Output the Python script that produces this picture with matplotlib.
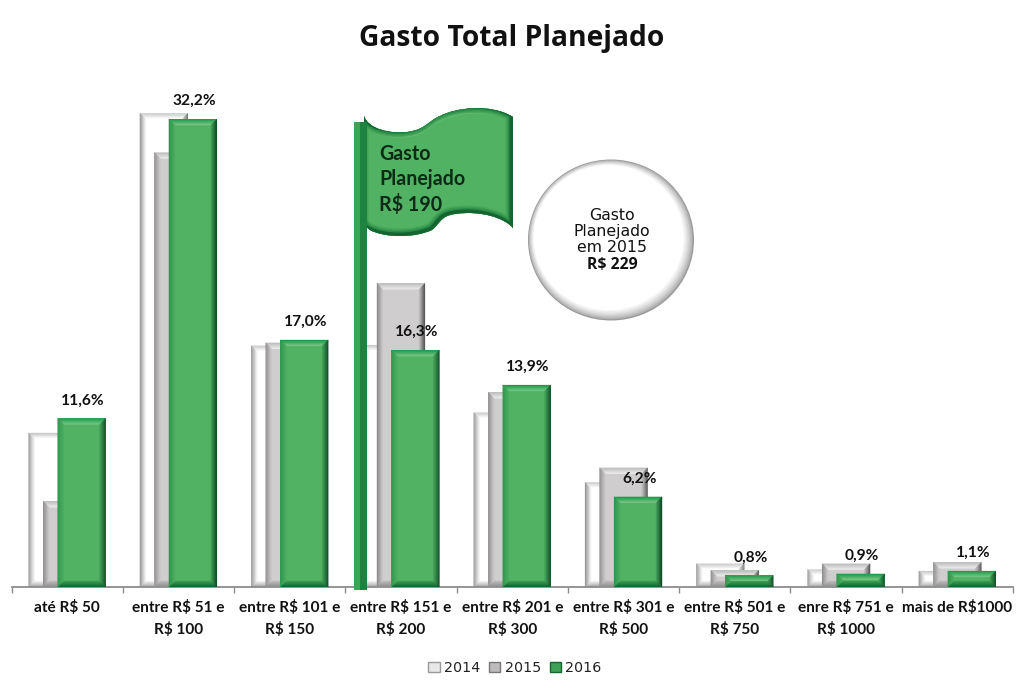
import numpy as np
import matplotlib
matplotlib.use("Agg")
import matplotlib.pyplot as plt
from matplotlib.patches import Polygon, PathPatch, Ellipse, Patch
from matplotlib.path import Path
from matplotlib.colors import to_rgb
from matplotlib.transforms import Affine2D

title = "Gasto Total Planejado"
categories = ["até R$ 50", "entre R$ 51 e\nR$ 100", "entre R$ 101 e\nR$ 150", "entre R$ 151 e\nR$ 200",
              "entre R$ 201 e\nR$ 300", "entre R$ 301 e\nR$ 500", "entre R$ 501 e\nR$ 750",
              "enre R$ 751 e\nR$ 1000", "mais de R$1000"]
s2014 = [10.6, 32.6, 16.6, 16.65, 12.0, 7.2, 1.6, 1.2, 1.1]
s2015 = [5.9, 29.9, 16.8, 20.9, 13.4, 8.2, 1.15, 1.6, 1.7]
s2016 = [11.6, 32.2, 17.0, 16.3, 13.9, 6.2, 0.8, 0.9, 1.1]
labels2016 = ["11,6%", "32,2%", "17,0%", "16,3%", "13,9%", "6,2%", "0,8%", "0,9%", "1,1%"]
flag_lines = ["Gasto", "Planejado", "R$ 190"]
circle_lines = ["Gasto", "Planejado", "em 2015"]
circle_value = "R$ 229"

W, H = 1024, 696
fig = plt.figure(figsize=(W / 100, H / 100), dpi=100, facecolor="white")
L, R, B, T = 11.5, 1013.0, 587.0, 60.0
ax = fig.add_axes([L / W, 1 - B / H, (R - L) / W, (B - T) / H])
ax.set_xlim(-0.5, 8.5)
PPY = 14.53
ax.set_ylim(0, (B - T) / PPY)
PPX = (R - L) / 9
for s in ["top", "left", "right"]:
    ax.spines[s].set_visible(False)
ax.spines["bottom"].set_color("#8c8c8c")
ax.spines["bottom"].set_linewidth(1.3)
ax.set_yticks([])
x = np.arange(9)
ax.set_xticks(x)
ax.set_xticklabels(categories, fontfamily="Lato", fontweight="bold", fontsize=11.1, linespacing=1.58, color="#111111")
ax.tick_params(axis="x", which="major", length=0, pad=9.5)
ax.set_xticks(np.arange(-0.5, 9, 1), minor=True)
ax.tick_params(axis="x", which="minor", length=4, width=1, color="#8c8c8c")

styles = {
    "2014": dict(face="#FFFFFF", top=("#c8c8c8", "#ffffff"), left=("#989898", "#f0f0f0"), right=("#777777", "#dddddd"), bottom=("#a8a8a8", "#eeeeee")),
    "2015": dict(face="#CFCDCD", top=("#bdbdbd", "#ebebeb"), left=("#8f8d8d", "#c8c6c6"), right=("#555555", "#bdbbbb"), bottom=("#8f8f8f", "#b8b6b6")),
    "2016": dict(face="#52B263", top=("#1f9a4a", "#74c384"), left=("#2c974e", "#4aab5e"), right=("#0e4a26", "#3f9a55"), bottom=("#0f6633", "#379850")),
}

def mix(a, b, t):
    a, b = np.array(to_rgb(a)), np.array(to_rgb(b))
    return tuple(a + (b - a) * t)

def bevel(x0, width, h, st, z, n=6):
    x1 = x0 + width
    dx = 1.0 / PPX
    dy = min(1.0 / PPY, h / (2.0 * n))
    for k in range(n):
        t = k / (n - 1)
        a0, a1 = x0 + k * dx, x0 + (k + 1) * dx
        b0, b1 = x1 - k * dx, x1 - (k + 1) * dx
        c0, c1 = k * dy, (k + 1) * dy
        d0, d1 = h - k * dy, h - (k + 1) * dy
        quads = {
            "top": [(a0, d0), (b0, d0), (b1, d1), (a1, d1)],
            "bottom": [(a0, c0), (b0, c0), (b1, c1), (a1, c1)],
            "left": [(a0, c0), (a1, c1), (a1, d1), (a0, d0)],
            "right": [(b0, c0), (b1, c1), (b1, d1), (b0, d0)],
        }
        for side, pts in quads.items():
            col = mix(st[side][0], st[side][1], t)
            ax.add_patch(Polygon(pts, closed=True, facecolor=col, edgecolor=col, linewidth=0.2, zorder=z + 0.1))

bw = 48 / PPX
off = 14.5 / PPX
for name, vals, shift, z in [("2014", s2014, -off, 2), ("2015", s2015, 0, 3), ("2016", s2016, off, 4)]:
    st = styles[name]
    ax.bar(x + shift, vals, bw, color=st["face"], zorder=z, linewidth=0)
    for xi, v in zip(x, vals):
        bevel(xi + shift - bw / 2, bw, v, st, z)

for xi, v, lab in zip(x, s2016, labels2016):
    ax.annotate(lab, (xi + off, v), xytext=(1, 13), textcoords="offset points", ha="center", va="center",
                fontfamily="Lato", fontweight="bold", fontsize=11.2, color="#111111", zorder=8)

# overlay in pixel coordinates for the annotation shapes
ov = fig.add_axes([0, 0, 1, 1], facecolor="none")
ov.set_xlim(0, W)
ov.set_ylim(H, 0)
ov.axis("off")
ov.set_zorder(5)

# circle
cx, cy, rx, ry = 611, 240, 83, 80.5
m = 9
for k in range(m):
    t = k / (m - 1)
    col = mix("#9a9a9a", "#ffffff", t ** 0.7)
    ov.add_patch(Ellipse((cx - 0.3 * k, cy - 0.3 * k), 2 * (rx - k), 2 * (ry - k), facecolor=col, edgecolor="none"))
for i, ln in enumerate(circle_lines):
    ov.text(612, 215 + 16.5 * i, ln, ha="center", va="center", fontfamily="DejaVu Sans", fontsize=11.3, color="#111111")
ov.text(612, 265, circle_value, ha="center", va="center", fontfamily="Open Sans", fontweight="bold", fontsize=11.3, color="#111111")

# flag
verts = [(364, 116),
         (368, 129), (390, 134), (407, 132),
         (425, 130), (428, 121), (440, 116),
         (455, 108), (490, 103), (513, 117),
         (513, 228),
         (505, 218), (480, 210), (455, 214),
         (440, 216), (440, 224), (432, 230),
         (415, 238), (385, 238), (370, 230),
         (366, 227), (365, 225), (364, 222),
         (364, 116)]
codes = [Path.MOVETO] + [Path.CURVE4] * 9 + [Path.LINETO] + [Path.CURVE4] * 12 + [Path.CLOSEPOLY]
flag = Path(verts, codes)
base = PathPatch(flag, facecolor="#52B263", edgecolor="none", zorder=2)
ov.add_patch(base)
# soft highlight along the top edge, dark shading along the right and lower edges
shifted = flag.transformed(Affine2D().translate(-1.5, -1.5))
highlight = flag.transformed(Affine2D().translate(0, 3))
hp = PathPatch(highlight, facecolor="none", edgecolor="#6fc280", linewidth=3, zorder=2.05)
ov.add_patch(hp)
hp.set_clip_path(base)
for lw, col in [(9, "#4aa95c"), (7, "#3a9c52"), (5, "#2a8c48"), (2.8, "#14652f")]:
    p = PathPatch(shifted, facecolor="none", edgecolor=col, linewidth=lw, zorder=2.1)
    ov.add_patch(p)
    p.set_clip_path(base)
# pole
pole_x = [354, 360, 367]
ov.fill_between(pole_x[:2], 122, 590, color="#3aa655", linewidth=0, zorder=3)
ov.fill_between(pole_x[1:], 122, 590, color="#1e8240", linewidth=0, zorder=3)
for i, ln in enumerate(flag_lines):
    ov.text(379, 154 + 25 * i, ln, ha="left", va="center", fontfamily="Lato", fontweight="bold", fontsize=14.1, color="#0c2a16", zorder=4)

fig.text(512 / W, 1 - 38.5 / H, title, ha="center", va="center", fontfamily="Open Sans", fontweight="bold", fontsize=20.3, color="#111111")

handles = [Patch(facecolor="#e8e8e8", edgecolor="#9a9a9a", label="2014"),
           Patch(facecolor="#bdbbbb", edgecolor="#777777", label="2015"),
           Patch(facecolor="#3fa056", edgecolor="#14652f", label="2016")]
leg = fig.legend(handles=handles, loc="center", bbox_to_anchor=(515 / W, 1 - 668 / H), ncol=3, frameon=False,
                 handlelength=0.8, handleheight=0.7, handletextpad=0.3, columnspacing=0.6,
                 prop=dict(family="DejaVu Sans", size=10.3))
for t in leg.get_texts():
    t.set_color("#222222")

fig.savefig("out.png", dpi=100, facecolor="white")
